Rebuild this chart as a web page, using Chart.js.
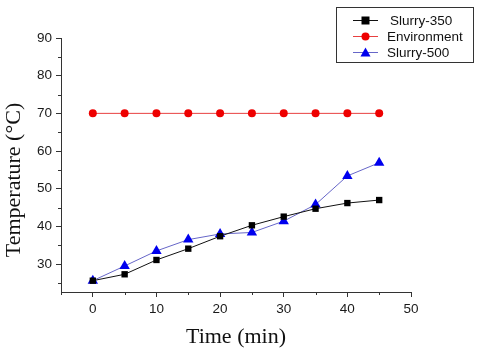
<!DOCTYPE html>
<html>
<head>
<meta charset="utf-8">
<script src="https://cdn.jsdelivr.net/npm/chart.js@4/dist/chart.umd.min.js"></script>
<style>
  html, body { margin: 0; padding: 0; background: #fff; }
  #wrap { width: 480px; height: 352px; position: relative; }
</style>
</head>
<body>
<div id="wrap"><canvas id="tempChart"></canvas></div>
<script>
// data
const times = [0, 5, 10, 15, 20, 25, 30, 35, 40, 45];
const slurry350 = [25.6, 27.3, 31.1, 34.1, 37.4, 40.3, 42.6, 44.7, 46.2, 47.0];
const environment = [70, 70, 70, 70, 70, 70, 70, 70, 70, 70];
const slurry500 = [25.6, 29.5, 33.5, 36.5, 38.0, 38.4, 41.4, 45.8, 53.4, 56.9];

const xTicks = [0, 10, 20, 30, 40, 50];
const xMinorTicks = [-5, 5, 15, 25, 35, 45];
const yTicks = [30, 40, 50, 60, 70, 80, 90];
const yMinorTicks = [25, 35, 45, 55, 65, 75, 85];

const serif = '"Liberation Serif", "Times New Roman", serif';
const sans = '"Liberation Sans", Arial, sans-serif';

function toPoints(values) {
    return times.map((t, i) => ({ x: t, y: values[i] }));
}

// short minor ticks, Origin style
const minorTicks = {
    id: 'minorTicks',
    afterDraw(chart) {
        const ctx = chart.ctx;
        const xs = chart.scales.x, ys = chart.scales.y;
        ctx.save();
        ctx.strokeStyle = '#333';
        ctx.lineWidth = 1;
        ctx.beginPath();
        xMinorTicks.forEach(v => {
            const px = Math.round(xs.getPixelForValue(v)) + 0.5;
            ctx.moveTo(px, xs.top);
            ctx.lineTo(px, xs.top + 3);
        });
        yMinorTicks.forEach(v => {
            const py = Math.round(ys.getPixelForValue(v)) + 0.5;
            ctx.moveTo(ys.right, py);
            ctx.lineTo(ys.right - 3, py);
        });
        ctx.stroke();
        ctx.restore();
    }
};

// y title sits a bit below the axis centre in the original
const yTitle = {
    id: 'yTitle',
    afterDraw(chart) {
        const ctx = chart.ctx;
        ctx.save();
        ctx.translate(20, 180);
        ctx.rotate(-Math.PI / 2);
        ctx.font = '22px ' + serif;
        ctx.fillStyle = '#111';
        ctx.textAlign = 'center';
        ctx.textBaseline = 'alphabetic';
        ctx.fillText('Temperature (°C)', 0, 0);
        ctx.restore();
    }
};

function drawMarker(ctx, style, x, y, color) {
    ctx.fillStyle = color;
    ctx.beginPath();
    if (style === 'rect') {
        ctx.rect(x - 4, y - 4, 8, 8);
    } else if (style === 'circle') {
        ctx.arc(x, y, 4, 0, Math.PI * 2);
    } else {
        ctx.moveTo(x, y - 5);
        ctx.lineTo(x + 5, y + 4);
        ctx.lineTo(x - 5, y + 4);
        ctx.closePath();
    }
    ctx.fill();
}

// boxed legend in top right corner
const boxLegend = {
    id: 'boxLegend',
    afterDraw(chart) {
        const ctx = chart.ctx;
        ctx.save();
        ctx.strokeStyle = '#333';
        ctx.lineWidth = 1;
        ctx.strokeRect(336.5, 7.5, 137, 55);
        ctx.font = '13.5px ' + sans;
        ctx.textBaseline = 'middle';
        const rowY = [20, 36, 52];
        const textX = [390, 387, 387];
        chart.data.datasets.forEach((ds, i) => {
            const y = rowY[i];
            ctx.strokeStyle = ds.borderColor;
            ctx.beginPath();
            ctx.moveTo(353, y + 0.5);
            ctx.lineTo(378, y + 0.5);
            ctx.stroke();
            drawMarker(ctx, ds.pointStyle, 365.5, y + 0.5, ds.pointBackgroundColor);
            ctx.fillStyle = '#111';
            ctx.fillText(ds.label, textX[i], y + 1);
        });
        ctx.restore();
    }
};

new Chart(document.getElementById('tempChart'), {
    type: 'line',
    data: {
        datasets: [
            {
                label: 'Slurry-350',
                data: toPoints(slurry350),
                borderColor: '#111',
                borderWidth: 1,
                pointStyle: 'rect',
                pointRadius: 4.5,
                pointBackgroundColor: '#000',
                pointBorderColor: '#000',
                pointBorderWidth: 0
            },
            {
                label: 'Environment',
                data: toPoints(environment),
                borderColor: '#e84040',
                borderWidth: 1,
                pointStyle: 'circle',
                pointRadius: 4,
                pointBackgroundColor: '#ee0000',
                pointBorderColor: '#ee0000',
                pointBorderWidth: 0
            },
            {
                label: 'Slurry-500',
                data: toPoints(slurry500),
                borderColor: '#6666c8',
                borderWidth: 1,
                pointStyle: 'triangle',
                pointRadius: 6,
                pointBackgroundColor: '#0000ee',
                pointBorderColor: '#0000ee',
                pointBorderWidth: 0
            }
        ]
    },
    options: {
        responsive: true,
        maintainAspectRatio: false,
        animation: false,
        layout: { padding: { top: 38, right: 69, left: 0, bottom: 0 } },
        plugins: {
            legend: { display: false },
            tooltip: { enabled: false }
        },
        scales: {
            x: {
                type: 'linear',
                min: -5,
                max: 50,
                afterBuildTicks: s => { s.ticks = xTicks.map(v => ({ value: v })); },
                afterFit: s => { s.height = 60; },
                border: { color: '#333', width: 1 },
                grid: { drawOnChartArea: false, tickLength: 5, tickColor: '#333' },
                ticks: {
                    color: '#1a1a1a',
                    padding: 4,
                    maxRotation: 0,
                    font: { family: sans, size: 13.5 }
                },
                title: {
                    display: true,
                    text: 'Time (min)',
                    color: '#111',
                    padding: { top: 0, bottom: 2 },
                    font: { family: serif, size: 22 }
                }
            },
            y: {
                type: 'linear',
                min: 22.6,
                max: 90,
                afterBuildTicks: s => { s.ticks = yTicks.map(v => ({ value: v })); },
                afterFit: s => { s.width = 61; },
                border: { color: '#333', width: 1 },
                grid: { drawOnChartArea: false, tickLength: 5, tickColor: '#333' },
                ticks: {
                    color: '#1a1a1a',
                    padding: 4,
                    font: { family: sans, size: 13.5 }
                },
                title: { display: false }
            }
        }
    },
    plugins: [minorTicks, yTitle, boxLegend]
});
</script>
</body>
</html>
